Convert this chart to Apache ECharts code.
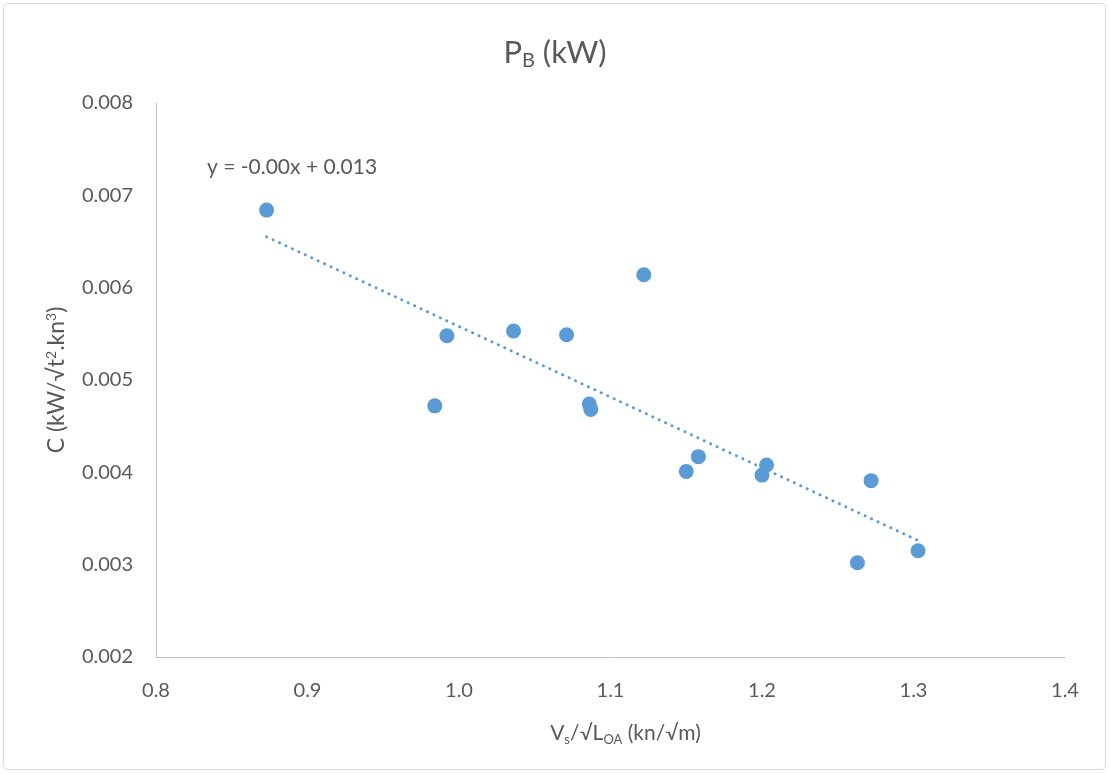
<!DOCTYPE html>
<html>
<head>
<meta charset="utf-8">
<script src="https://cdn.jsdelivr.net/npm/echarts@6/dist/echarts.min.js"></script>
<style>html,body{margin:0;padding:0;background:#fff}#c{width:1110px;height:774px}</style>
</head>
<body>
<div id="c"></div>
<script>
const xValues = [0.873, 0.992, 1.036, 1.071, 0.984, 1.086, 1.087, 1.122, 1.158, 1.150, 1.203, 1.200, 1.272, 1.263, 1.303];
const yValues = [0.00684, 0.00548, 0.00553, 0.00549, 0.00472, 0.00474, 0.00468, 0.00614, 0.00417, 0.00401, 0.00408, 0.00397, 0.00391, 0.00302, 0.00315];
const xTicks = ['0.8', '0.9', '1.0', '1.1', '1.2', '1.3', '1.4'];
const yTicks = ['0.002', '0.003', '0.004', '0.005', '0.006', '0.007', '0.008'];
const equationText = 'y = -0.00x + 0.013';

const pts = xValues.map((x, i) => [x, yValues[i]]);
// least-squares trendline (as Excel's linear trendline)
const n = xValues.length;
const mx = xValues.reduce((a, b) => a + b, 0) / n;
const my = yValues.reduce((a, b) => a + b, 0) / n;
let sxy = 0, sxx = 0;
for (let i = 0; i < n; i++) { sxy += (xValues[i] - mx) * (yValues[i] - my); sxx += (xValues[i] - mx) ** 2; }
const slope = sxy / sxx, intercept = my - slope * mx;
const xmin = Math.min(...xValues), xmax = Math.max(...xValues);
const trend = [[xmin, intercept + slope * xmin], [xmax, intercept + slope * xmax]];

const font = 'Lato, "Open Sans", sans-serif';
const grey = '#595959';
const chart = echarts.init(document.getElementById('c'));
chart.setOption({
  animation: false,
  backgroundColor: '#fff',
  title: {
    text: '{m|P}{s|B}{m| (kW)}',
    left: 'center', top: 30,
    textStyle: {
      rich: {
        m: { fontFamily: font, fontSize: 31, color: grey, fontWeight: 'normal' },
        s: { fontFamily: font, fontSize: 20, color: grey, fontWeight: 'normal', padding: [16, 0, 0, 0] }
      }
    }
  },
  grid: { left: 156, top: 103, right: 45, bottom: 117 },
  xAxis: {
    type: 'value', min: 0.8, max: 1.4, interval: 0.1,
    axisLine: { show: true, lineStyle: { color: '#BFBFBF', width: 1 } },
    axisTick: { show: false },
    splitLine: { show: false },
    axisLabel: { color: grey, fontFamily: font, fontSize: 20, margin: 24,
      formatter: v => xTicks[Math.round((v - 0.8) * 10)] },
    name: '{m|V}{s|s}{m|/√L}{s|OA}{m| (kn/√m)}',
    nameLocation: 'middle', nameGap: 64,
    nameTextStyle: { padding: [0, 0, 0, 30], rich: {
      m: { fontFamily: font, fontSize: 21, color: grey },
      s: { fontFamily: font, fontSize: 13, color: grey, padding: [12, 0, 0, 0] }
    } }
  },
  yAxis: {
    type: 'value', min: 0.002, max: 0.008, interval: 0.001,
    axisLine: { show: true, lineStyle: { color: '#BFBFBF', width: 1 } },
    axisTick: { show: false },
    splitLine: { show: false },
    axisLabel: { color: grey, fontFamily: font, fontSize: 20, margin: 23,
      formatter: v => yTicks[Math.round((v - 0.002) * 1000)] },
    name: '{m|C (kW/√t}{s|2}{m|.kn}{s|3}{m|)}',
    nameLocation: 'middle', nameGap: 86, nameRotate: 90,
    nameTextStyle: { rich: {
      m: { fontFamily: font, fontSize: 23, color: grey },
      s: { fontFamily: font, fontSize: 14, color: grey, padding: [0, 0, 12, 0] }
    } }
  },
  graphic: [
    { type: 'rect', shape: { x: 3.5, y: 3.5, width: 1102, height: 766, r: 4 },
      style: { fill: 'none', stroke: '#D9D9D9', lineWidth: 1 }, silent: true, z: -1 },
    { type: 'text', left: 207, top: 157, style: { text: equationText, font: '21px ' + font, fill: grey } }
  ],
  series: [
    {
      type: 'line', data: trend, symbol: 'none', silent: true,
      lineStyle: { color: '#5B9BD5', width: 3, type: [0.1, 7], cap: 'round' },
      z: 1
    },
    {
      type: 'scatter', data: pts, symbol: 'circle', symbolSize: 15,
      itemStyle: { color: '#5B9BD5', opacity: 1 }, z: 2
    }
  ]
});
</script>
</body>
</html>
